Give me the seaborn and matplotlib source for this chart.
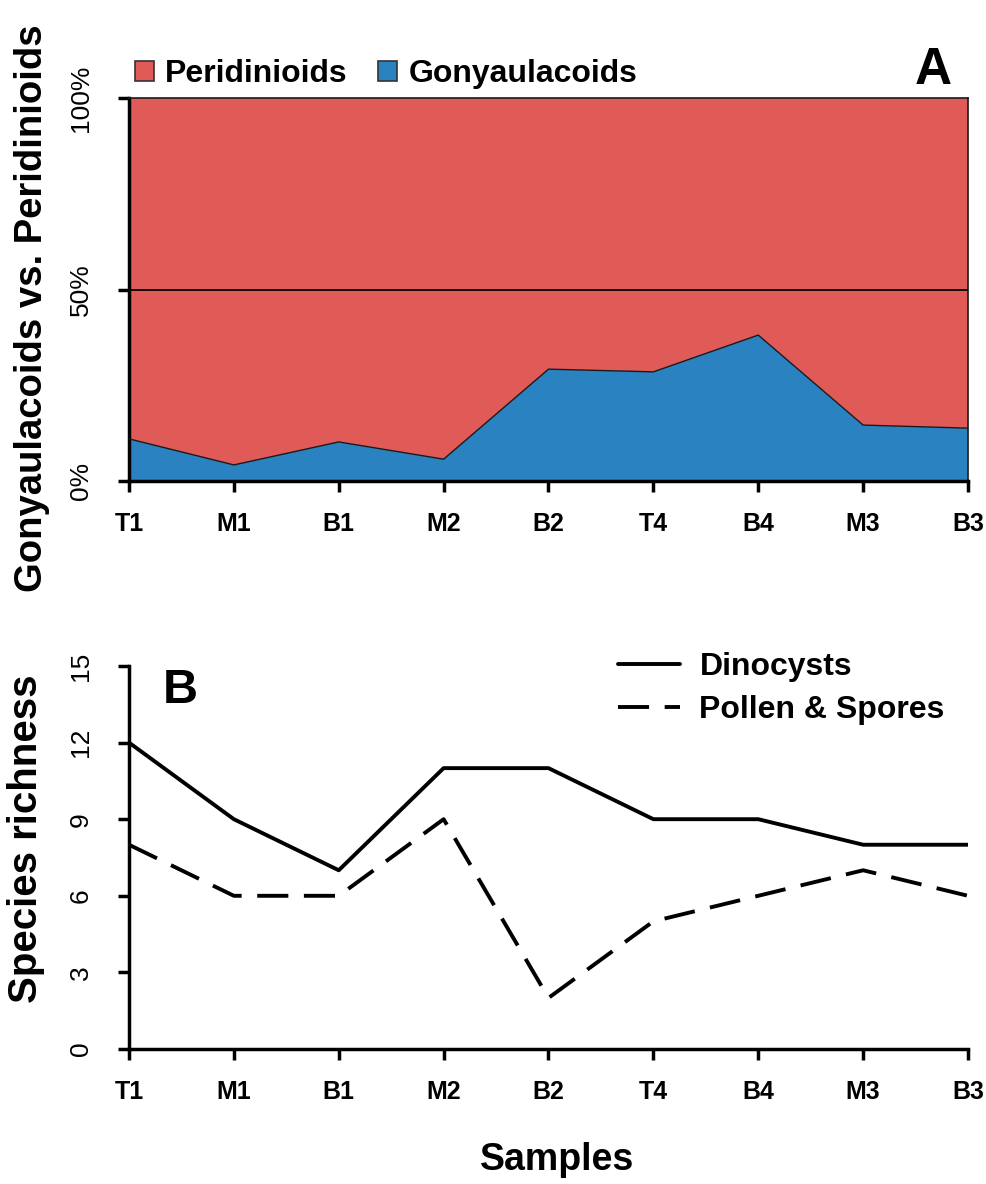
import numpy as np
import pandas as pd
import matplotlib
matplotlib.use("Agg")
import matplotlib.pyplot as plt
import seaborn as sns
from matplotlib.patches import Patch

samples = ["T1", "M1", "B1", "M2", "B2", "T4", "B4", "M3", "B3"]
gonyaulacoids_pct = [11.0, 4.2, 10.2, 5.7, 29.2, 28.5, 38.1, 14.6, 13.8]
peridinioids_pct = [100 - g for g in gonyaulacoids_pct]
dinocysts = [12, 9, 7, 11, 11, 9, 9, 8, 8]
pollen_spores = [8, 6, 6, 9, 2, 5, 6, 7, 6]

sns.set_style("ticks")
plt.rcParams['font.family'] = ['Liberation Sans', 'DejaVu Sans']
plt.rcParams.update({"text.color": "black", "axes.labelcolor": "black",
                     "xtick.color": "black", "ytick.color": "black",
                     "xtick.labelcolor": "black", "ytick.labelcolor": "black"})

RED = "#E05A57"
BLUE = "#2A82C0"
W, H = 987, 1184

fig = plt.figure(figsize=(W/100, H/100), dpi=100)
axA = fig.add_axes([129/W, 1-481/H, (968-129)/W, 383/H])
axB = fig.add_axes([129/W, 1-1049/H, (968-129)/W, 383/H])

x = np.arange(len(samples))

# Panel A: stacked 100% area
axA.fill_between(x, 0, gonyaulacoids_pct, facecolor=BLUE, edgecolor="none", zorder=2)
axA.fill_between(x, gonyaulacoids_pct, 100, facecolor=RED, edgecolor="none", zorder=1)
sns.lineplot(x=x, y=gonyaulacoids_pct, ax=axA, color="#1a1a1a", linewidth=1.0, zorder=3)
axA.axhline(50, color="black", linewidth=1.3, zorder=4)
axA.set_xlim(0, 8)
axA.set_ylim(0, 100)
axA.set_yticks([0, 50, 100])
axA.set_yticklabels(["0%", "50%", "100%"], rotation=90, va="center", fontsize=19)
axA.set_xticks(x)
axA.set_xticklabels(samples, fontsize=18, fontweight="bold")
for side in ["top", "right"]:
    axA.spines[side].set_linewidth(1.2)
    axA.spines[side].set_color("#1a1a1a")
for side in ["left", "bottom"]:
    axA.spines[side].set_linewidth(2.5)
    axA.spines[side].set_color("black")
axA.tick_params(axis="x", direction="out", length=8, width=2.5, pad=14)
axA.tick_params(axis="y", direction="out", length=8, width=2.5, pad=18)
axA.set_ylabel("Gonyaulacoids vs. Peridinioids", fontsize=27.5, fontweight="bold")
axA.yaxis.set_label_coords(-0.094, 0.45)
axA.set_xlabel("")
handles = [Patch(facecolor=RED, edgecolor="#333333", linewidth=1.2),
           Patch(facecolor=BLUE, edgecolor="#333333", linewidth=1.2)]
fig.legend(handles, ["Peridinioids", "Gonyaulacoids"], loc="center left",
           bbox_to_anchor=(135/W, 1-74/H), ncol=2, frameon=False, handlelength=0.6,
           handleheight=0.6, handletextpad=0.35, columnspacing=0.95, borderpad=0,
           borderaxespad=0, prop={"size": 23, "weight": "bold"})
fig.text(952/W, 1-46/H, "A", ha="right", va="top", fontsize=37, fontweight="bold")

# Panel B: species richness lines
df = pd.DataFrame({"x": np.concatenate([x, x]),
                   "value": dinocysts + pollen_spores,
                   "series": ["Dinocysts"] * len(x) + ["Pollen & Spores"] * len(x)})
sns.lineplot(data=df, x="x", y="value", hue="series", style="series",
             palette={"Dinocysts": "black", "Pollen & Spores": "black"},
             dashes={"Dinocysts": "", "Pollen & Spores": (8, 4)},
             linewidth=2.8, ax=axB)
axB.set_xlim(0, 8)
axB.set_ylim(0, 15)
axB.set_yticks([0, 3, 6, 9, 12, 15])
axB.set_yticklabels(["0", "3", "6", "9", "12", "15"], rotation=90, va="center", fontsize=19)
axB.set_xticks(x)
axB.set_xticklabels(samples, fontsize=18, fontweight="bold")
for side in ["top", "right"]:
    axB.spines[side].set_visible(False)
for side in ["left", "bottom"]:
    axB.spines[side].set_linewidth(2.5)
    axB.spines[side].set_color("black")
axB.tick_params(axis="x", direction="out", length=8, width=2.5, pad=14)
axB.tick_params(axis="y", direction="out", length=8, width=2.5, pad=18)
axB.set_ylabel("Species richness", fontsize=29, fontweight="bold")
axB.yaxis.set_label_coords(-0.1, 0.55)
axB.set_xlabel("Samples", fontsize=27, fontweight="bold")
axB.xaxis.set_label_coords(0.51, -(1160-1049)/383)
axB.xaxis.label.set_va("center")
axB.get_legend().remove()
hl, lb = axB.get_legend_handles_labels()
fig.legend(hl, lb, loc="upper left", bbox_to_anchor=(618/W, 1-652/H), frameon=False,
           handlelength=1.95, handletextpad=0.6, labelspacing=0.42, borderpad=0,
           borderaxespad=0, prop={"size": 23, "weight": "bold"})
fig.text(163/W, 1-668/H, "B", ha="left", va="top", fontsize=35, fontweight="bold")

fig.savefig("out.png", dpi=100)
